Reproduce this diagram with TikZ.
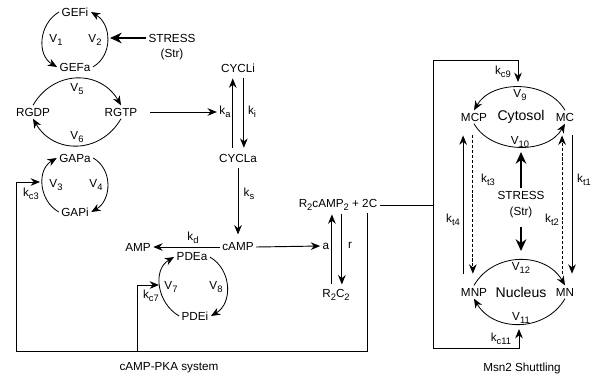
\documentclass[tikz,border=0pt]{standalone}
\usepackage{fontspec}
\setmainfont{Liberation Sans}
\usetikzlibrary{arrows.meta}
\newcommand{\sbs}[1]{\raisebox{-0.5ex}{\fontsize{8}{8}\selectfont #1}}

\begin{document}
\begin{tikzpicture}[
  x=0.03cm, y=-0.03cm,
  every node/.style={inner sep=2pt},
  big/.style={font=\fontsize{12}{14}\selectfont},
  arr/.style={-{Stealth[length=8pt,width=6.5pt]}, line width=0.8pt},
  cyc/.style={-{Stealth[length=8pt,width=6.5pt]}, line width=0.7pt},
  fat/.style={-{Stealth[length=10pt,width=9pt]}, line width=2.3pt},
  wire/.style={line width=0.8pt},
  kt/.style={arr, shorten <=10pt, shorten >=10pt},
  dsh/.style={dash pattern=on 2.6pt off 1.6pt}
]
  \useasboundingbox (0,0) rectangle (597,381);

  % GEF cycle
  \node (GEFi) at (75,12) {GEFi};
  \node (GEFa) at (75,67) {GEFa};
  \node (V1) at (56,40) {V\sbs{1}};
  \node (V2) at (95,40) {V\sbs{2}};
  \node (str1) at (172,38) {STRESS};
  \node (str1b) at (172,54) {(Str)};
  \coordinate (gefR) at (110,38);
  \draw[cyc] (GEFi.west) to[out=210,in=150,looseness=1.1] (GEFa.west);
  \draw[cyc] (GEFa.east) to[out=30,in=-30,looseness=1.1] (GEFi.east);
  \draw[fat] (str1.west) -- (gefR);

  % Ras cycle
  \node (RGDP) at (33,112) {RGDP};
  \node (RGTP) at (121,112) {RGTP};
  \node (V5) at (77,89) {V\sbs{5}};
  \node (V6) at (77,137) {V\sbs{6}};
  \draw[cyc] (RGDP.north) to[out=60,in=120,looseness=1.2] (RGTP.north);
  \draw[cyc] (RGTP.south) to[out=-120,in=-60,looseness=1.2] (RGDP.south);

  % GAP cycle
  \node (GAPa) at (75,158) {GAPa};
  \node (GAPi) at (75,212) {GAPi};
  \node (V3) at (56,185) {V\sbs{3}};
  \node (V4) at (96,185) {V\sbs{4}};
  \node (kc3) at (31,194) {k\sbs{c3}};
  \draw[cyc] (GAPi.west) to[out=150,in=210,looseness=1.1] (GAPa.west);
  \draw[cyc] (GAPa.east) to[out=-30,in=30,looseness=1.1] (GAPi.east);

  % cyclase
  \node (CYCLi) at (238,68) {CYCLi};
  \node (CYCLa) at (238,158) {CYCLa};
  \node (ka) at (225,112) {k\sbs{a}};
  \node (ki) at (252,112) {k\sbs{i}};
  \node (ks) at (249,194) {k\sbs{s}};
  \draw[arr, shorten <=9pt] (RGTP.east) -- (ka.west);
  \draw[arr, shorten <=3pt, shorten >=3pt] ([xshift=-4.5pt]CYCLa.north) -- ([xshift=-4.5pt]CYCLi.south);
  \draw[arr, shorten <=3pt, shorten >=3pt] ([xshift=5pt]CYCLi.south) -- ([xshift=5pt]CYCLa.north);

  % cAMP
  \node (cAMP) at (238,247) {cAMP};
  \node (AMP) at (138,247) {AMP};
  \node (kd) at (193,238) {k\sbs{d}};
  \node (a) at (326,246) {a};
  \draw[arr, shorten <=3pt, shorten >=5pt] (CYCLa.south) -- (cAMP.north);
  \draw[arr] (cAMP.west) -- (AMP.east);
  \draw[arr] (cAMP.east) -- (a.west);

  % PDE cycle
  \node (PDEa) at (192,257) {PDEa};
  \node (PDEi) at (195,316) {PDEi};
  \node (V7) at (171,287) {V\sbs{7}};
  \node (V8) at (216,287) {V\sbs{8}};
  \node (kc7) at (151,296) {k\sbs{c7}};
  \draw[cyc] (PDEi.west) to[out=150,in=210,looseness=1.1] (PDEa.west);
  \draw[cyc] (PDEa.east) to[out=-30,in=30,looseness=1.1] (PDEi.east);

  % PKA
  \node (R2) at (338,205) {R\sbs{2}cAMP\sbs{2} + 2C};
  \node (R2C2) at (336,295) {R\sbs{2}C\sbs{2}};
  \node (r) at (350,245) {r};
  \draw[arr, shorten <=2pt, shorten >=1pt] ([xshift=-3.5pt]R2C2.north) -- ([xshift=-3.5pt]R2C2.north |- R2.south);
  \draw[arr, shorten <=1pt, shorten >=2pt] ([xshift=5pt]R2C2.north |- R2.south) -- ([xshift=5pt]R2C2.north);

  % feedback of PKA
  \coordinate (fbBL) at (16,351);
  \coordinate (fbC) at (137,351);
  \coordinate (gapIn) at (40,182);
  \coordinate (pdeIn) at (159,285);
  \draw[arr] ([xshift=-10.2pt]R2.south east) |- (fbBL) |- (gapIn);
  \draw[arr] (fbC) |- (pdeIn);
  \node (pka) at (169,368) {cAMP-PKA system};

  % Msn2 shuttling
  \coordinate (msnM) at (433,205);
  \coordinate (msnTop) at (433,60);
  \coordinate (msnBot) at (433,348);
  \coordinate (c9in) at (518,82);
  \coordinate (c11in) at (519,329);
  \draw[wire] (R2.east) -- (msnM);
  \draw[arr] (msnM) -- (msnTop) -| (c9in);
  \draw[arr] (msnM) -- (msnBot) -| (c11in);
  \node (kc9) at (503,72) {k\sbs{c9}};
  \node (kc11) at (501,339) {k\sbs{c11}};

  \node (MCP) at (474,117) {MCP};
  \node[big] (cyto) at (521,117) {Cytosol};
  \node (MC) at (565,117) {MC};
  \node (V9) at (520,95) {V\sbs{9}};
  \node (V10) at (520,142) {V\sbs{10}};
  \draw[cyc] (MC.north) to[out=120,in=60] (MCP.north);
  \draw[cyc] (MCP.south) to[out=-60,in=-120] (MC.south);

  \node (MNP) at (474,292) {MNP};
  \node[big] (nucl) at (521,292) {Nucleus};
  \node (MN) at (565,292) {MN};
  \node (V12) at (521,268) {V\sbs{12}};
  \node (V11) at (521,318) {V\sbs{11}};
  \draw[cyc] (MNP.north) to[out=60,in=120,looseness=1.1] (MN.north);
  \draw[cyc] (MN.south) to[out=-120,in=-60,looseness=1.1] (MNP.south);

  \node (str2) at (521,195) {STRESS};
  \node (str2b) at (521,212) {(Str)};
  \coordinate (cytB) at (521,152);
  \coordinate (nucT) at (521,251);
  \draw[fat] (str2.north) -- (cytB);
  \draw[fat, shorten <=6pt] (str2b.south) -- (nucT);

  \draw[kt] ([xshift=-9.3pt]MNP.north) -- ([xshift=-9.3pt]MCP.south);
  \draw[kt, dsh] ([xshift=-1pt]MCP.south) -- ([xshift=-1pt]MNP.north);
  \draw[kt, dsh] ([xshift=-2.5pt]MN.north) -- ([xshift=-2.5pt]MC.south);
  \draw[kt] ([xshift=6pt]MC.south) -- ([xshift=6pt]MN.north);
  \node (kt3) at (488,180) {k\sbs{t3}};
  \node (kt1) at (584,180) {k\sbs{t1}};
  \node (kt4) at (453,220) {k\sbs{t4}};
  \node (kt2) at (552,220) {k\sbs{t2}};
  \node (msn) at (522,368) {Msn2 Shuttling};
\end{tikzpicture}
\end{document}
